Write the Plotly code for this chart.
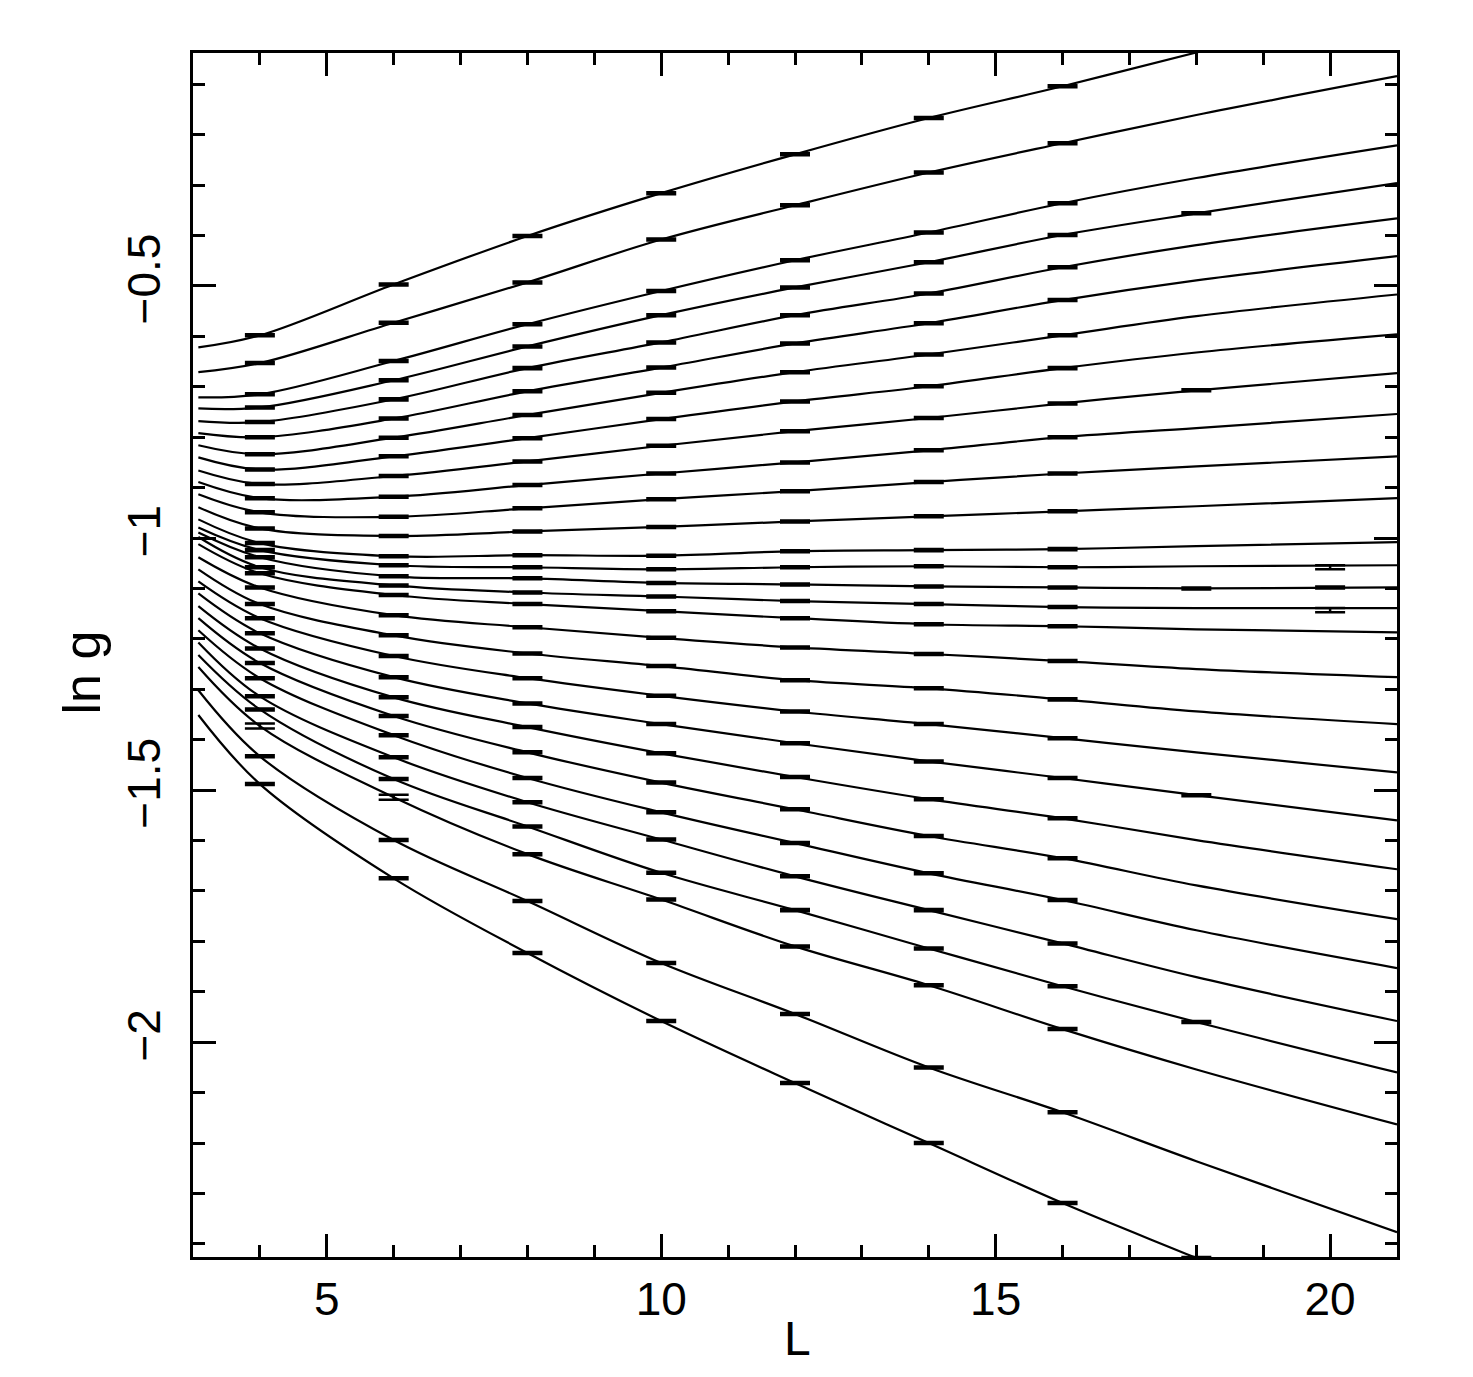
import plotly.graph_objects as go

L_line = [3.08, 4, 6, 8, 10, 12, 14, 16, 18, 21]

# ln g of each curve at L_line (top curve first)
g01 = [-0.622, -0.598, -0.497, -0.401, -0.316, -0.239, -0.167, -0.104, -0.037, 0.057]
g02 = [-0.671, -0.653, -0.573, -0.493, -0.408, -0.340, -0.275, -0.217, -0.161, -0.084]
g03 = [-0.721, -0.715, -0.649, -0.576, -0.510, -0.449, -0.394, -0.336, -0.286, -0.221]
g04 = [-0.743, -0.741, -0.687, -0.620, -0.558, -0.503, -0.453, -0.399, -0.356, -0.296]
g05 = [-0.768, -0.770, -0.725, -0.663, -0.612, -0.558, -0.515, -0.463, -0.419, -0.366]
g06 = [-0.792, -0.800, -0.763, -0.709, -0.662, -0.614, -0.574, -0.528, -0.489, -0.441]
g07 = [-0.816, -0.834, -0.801, -0.756, -0.712, -0.671, -0.636, -0.598, -0.560, -0.517]
g08 = [-0.840, -0.864, -0.838, -0.802, -0.764, -0.729, -0.699, -0.663, -0.632, -0.596]
g09 = [-0.866, -0.893, -0.877, -0.848, -0.817, -0.788, -0.762, -0.733, -0.707, -0.673]
g10 = [-0.889, -0.921, -0.918, -0.895, -0.872, -0.850, -0.826, -0.800, -0.782, -0.754]
g11 = [-0.913, -0.949, -0.958, -0.941, -0.923, -0.907, -0.889, -0.872, -0.858, -0.838]
g12 = [-0.939, -0.981, -0.996, -0.987, -0.978, -0.967, -0.957, -0.947, -0.937, -0.921]
g13 = [-0.963, -1.010, -1.036, -1.034, -1.035, -1.026, -1.024, -1.022, -1.016, -1.008]
g14 = [-0.979, -1.024, -1.054, -1.058, -1.062, -1.058, -1.056, -1.058, -1.056, -1.054]
g15 = [-0.989, -1.038, -1.076, -1.080, -1.089, -1.092, -1.096, -1.098, -1.100, -1.098]
g16 = [-0.998, -1.058, -1.094, -1.108, -1.116, -1.125, -1.131, -1.137, -1.139, -1.139]
g17 = [-1.012, -1.070, -1.113, -1.131, -1.145, -1.159, -1.171, -1.175, -1.181, -1.187]
g18 = [-1.038, -1.098, -1.153, -1.177, -1.198, -1.217, -1.230, -1.244, -1.260, -1.276]
g19 = [-1.062, -1.131, -1.193, -1.229, -1.254, -1.282, -1.298, -1.320, -1.344, -1.369]
g20 = [-1.086, -1.159, -1.234, -1.278, -1.313, -1.344, -1.369, -1.397, -1.425, -1.465]
g21 = [-1.110, -1.189, -1.276, -1.328, -1.369, -1.407, -1.443, -1.476, -1.510, -1.560]
g22 = [-1.135, -1.219, -1.316, -1.375, -1.427, -1.474, -1.518, -1.556, -1.599, -1.657]
g23 = [-1.159, -1.248, -1.353, -1.425, -1.485, -1.538, -1.591, -1.635, -1.689, -1.756]
g24 = [-1.183, -1.278, -1.391, -1.476, -1.544, -1.605, -1.665, -1.718, -1.778, -1.853]
g25 = [-1.207, -1.314, -1.435, -1.524, -1.598, -1.671, -1.738, -1.804, -1.871, -1.958]
g26 = [-1.232, -1.340, -1.478, -1.572, -1.664, -1.738, -1.814, -1.889, -1.960, -2.060]
g27 = [-1.256, -1.373, -1.514, -1.627, -1.717, -1.810, -1.887, -1.974, -2.054, -2.163]
g28 = [-1.302, -1.433, -1.599, -1.720, -1.843, -1.944, -2.050, -2.139, -2.236, -2.377]
g29 = [-1.351, -1.488, -1.675, -1.823, -1.958, -2.081, -2.200, -2.319, -2.428, -2.591]

curves = [g01, g02, g03, g04, g05, g06, g07, g08, g09, g10,
          g11, g12, g13, g14, g15, g16, g17, g18, g19, g20,
          g21, g22, g23, g24, g25, g26, g27, g28, g29]

# Simulated points: every curve has a data point at these L
L_pts = [4, 6, 8, 10, 12, 14, 16]
err_default = 0.002
# larger error bars (curve number, L): error
err_special = {(27, 4): 0.005, (27, 6): 0.005}

# extra points at L = 18 on a few curves (curve numbers, 1-based)
L18_curves = [4, 9, 15, 21, 26, 29]
err_L18 = 0.002

# extra points at L = 20
L20_curves = [14, 15, 16]
L20_vals = [-1.058, -1.098, -1.143]
L20_err = [0.004, 0.002, 0.004]

fig = go.Figure()

for g in curves:
    fig.add_trace(go.Scatter(
        x=L_line, y=g, mode="lines",
        line=dict(color="black", width=2.2, shape="spline"),
        showlegend=False, hoverinfo="skip"))

px, py, pe = [], [], []
for n, g in enumerate(curves, start=1):
    for L in L_pts:
        px.append(L)
        py.append(g[L_line.index(L)])
        pe.append(err_special.get((n, L), err_default))
for n in L18_curves:
    px.append(18)
    py.append(curves[n - 1][L_line.index(18)])
    pe.append(err_L18)
for n, v, e in zip(L20_curves, L20_vals, L20_err):
    px.append(20)
    py.append(v)
    pe.append(e)

fig.add_trace(go.Scatter(
    x=px, y=py, mode="markers",
    marker=dict(color="black", size=1),
    error_y=dict(type="data", array=pe, visible=True,
                 color="black", thickness=2.5, width=15),
    showlegend=False, hoverinfo="skip"))

font_family = "Liberation Sans"
axis_common = dict(
    showline=True, linecolor="black", linewidth=3, mirror="ticks",
    ticks="inside", ticklen=23, tickwidth=3, tickcolor="black",
    showgrid=False, zeroline=False,
    tickfont=dict(family=font_family, size=46, color="black"),
)

fig.update_layout(
    width=1465, height=1369,
    margin=dict(l=185, r=76, t=45, b=120),
    paper_bgcolor="white", plot_bgcolor="white",
    xaxis=dict(range=[3, 21], tick0=0, dtick=5,
               minor=dict(ticks="inside", ticklen=12, tickwidth=3,
                          tickcolor="black", dtick=1, tick0=0, showgrid=False),
               **axis_common),
    yaxis=dict(range=[-2.426, -0.038], tick0=0, dtick=0.5, tickangle=-90,
               ticklabelstandoff=12,
               minor=dict(ticks="inside", ticklen=12, tickwidth=3,
                          tickcolor="black", dtick=0.1, tick0=0, showgrid=False),
               **axis_common),
    annotations=[
        dict(text="L", xref="paper", yref="paper", x=0.5017, y=-0.0673,
             xanchor="center", yanchor="middle", showarrow=False,
             font=dict(family=font_family, size=48, color="black")),
        dict(text="ln g", xref="paper", yref="paper", x=-0.0922, y=0.4855,
             xanchor="center", yanchor="middle", showarrow=False, textangle=-90,
             font=dict(family=font_family, size=52, color="black")),
    ],
)

fig.write_html("out.html")
